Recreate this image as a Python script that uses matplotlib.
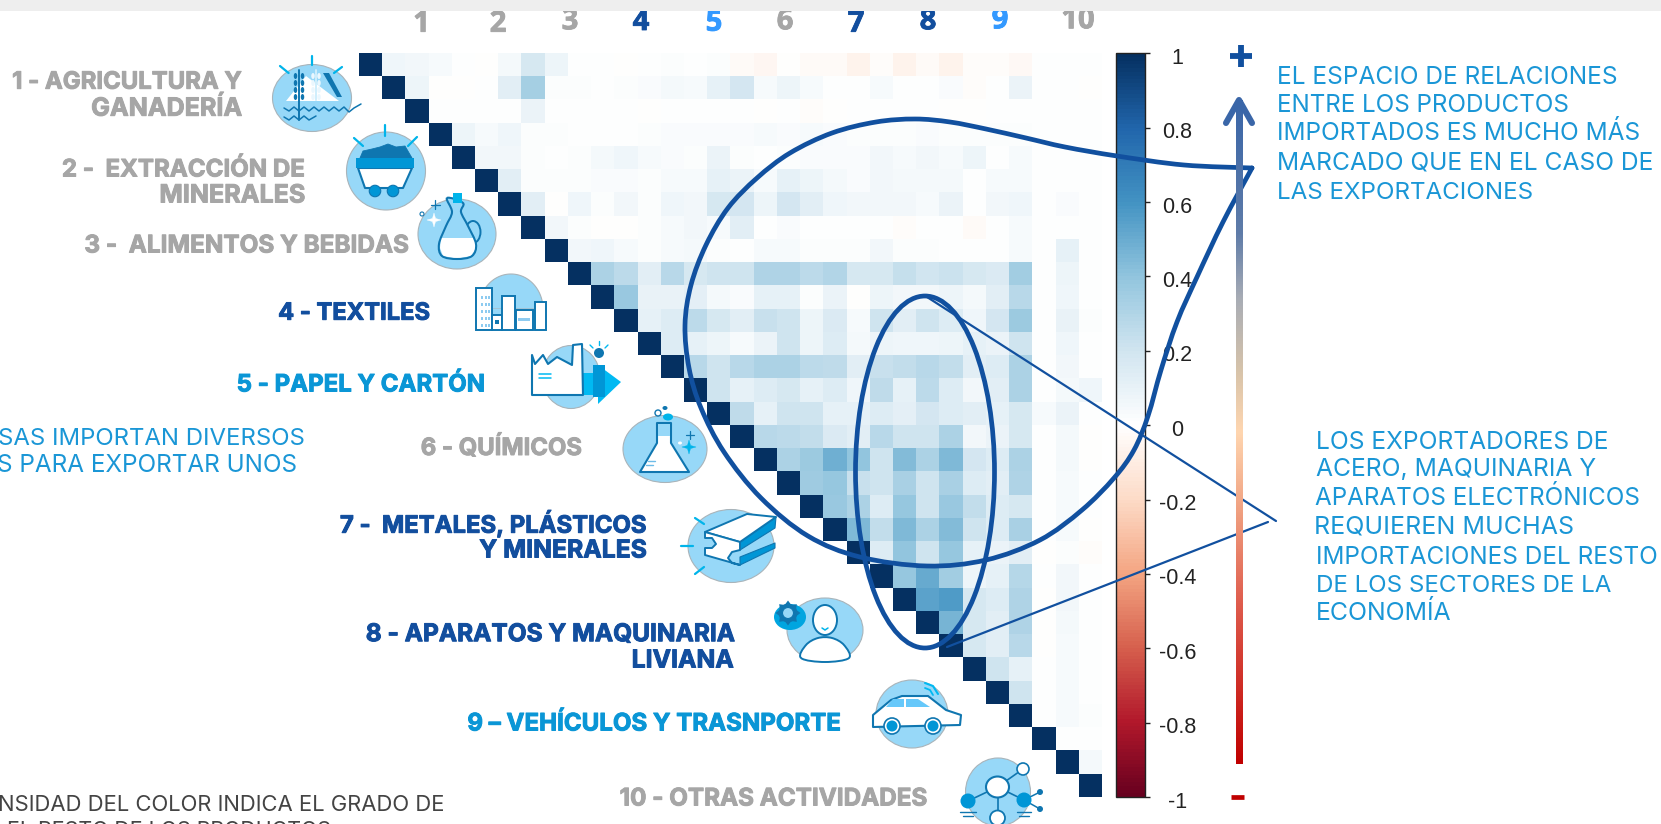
import numpy as np
import matplotlib
matplotlib.use("Agg")
import matplotlib.pyplot as plt
import matplotlib.patheffects as pe
from matplotlib.colors import LinearSegmentedColormap, Normalize
from matplotlib.cm import ScalarMappable
from matplotlib.patches import Ellipse, Polygon, Circle, Rectangle, PathPatch
from matplotlib.path import Path
from matplotlib.transforms import ScaledTranslation

W, H = 1661, 824

# ------------------------------------------------------------ data
row_00 = [.06,.05,.03,0,-.005,.04,.17,.07,0,0,-.005,0,.01,0,.01,-.03,-.05,-.01,-.03,-.03,-.07,-.015,-.07,-.03,-.07,-.02,-.015,-.035,0,.005,0]
row_01 = [.07,-.005,-.005,0,.13,.33,.01,.01,0,.01,.02,.04,.03,.1,.18,.03,.07,.03,0,0,.03,0,0,.02,-.02,0,.08,0,0,-.01]
row_02 = [0,0,0,0,.08,0,0,0,0,-.003,0,0,0,0,-.008,0,-.012,-.008,0,0,0,0,-.005,-.005,0,0,0,0,0]
row_03 = [.07,.03,.06,.01,.01,0,0,.005,.01,.02,.02,.02,.02,.03,.02,.03,.02,.01,.01,.015,.02,.01,.01,.01,.01,0,0,0]
row_04 = [.05,.05,.01,0,.01,.04,.06,.03,.02,.01,.08,.01,0,.01,.02,.02,.02,.05,.03,.05,.03,.07,0,.03,0,0,0]
row_05 = [.13,.01,.01,.01,.02,.02,.01,.03,.03,.1,.08,.03,.1,.07,.04,.02,.05,.04,.04,.04,0,.03,.03,0,0,0]
row_06 = [.12,-.005,.06,.01,.05,.01,.06,.05,.17,.18,.07,.18,.12,.06,.05,.05,.05,.03,.08,0,.05,.06,0,.02,0]
row_07 = [.05,.01,-.005,-.005,.01,.03,.05,.03,.12,0,.02,0,0,0,.005,-.02,0,.005,-.03,0,.03,0,0,0]
row_08 = [.05,.06,.03,.01,.03,.04,.01,0,.03,.03,.01,.01,.01,.05,.01,.01,0,0,.005,.03,0,.1,0]
row_09 = [.31,.26,.13,.27,.17,.2,.2,.3,.3,.26,.29,.17,.17,.23,.19,.21,.17,.16,.34,0,.07,0]
row_10 = [.37,.09,.09,.11,.04,.02,.1,.1,.01,.08,-.005,.07,.05,.05,.07,.04,.12,.27,0,.06,0]
row_11 = [.1,.15,.26,.17,.12,.22,.2,.07,.16,.03,.2,.13,.2,.14,.06,.18,.36,0,.09,.01]
row_12 = [.15,.1,.07,.03,.08,.2,.07,.15,.04,.07,.06,.06,.07,.1,.08,.2,0,.06,0]
row_13 = [.27,.2,.27,.31,.31,.26,.25,.12,.22,.24,.27,.24,.12,.14,.31,0,.05,0]
row_14 = [.2,.1,.15,.17,.1,.15,.06,.25,.1,.26,.14,.05,.13,.31,0,.04,.06]
row_15 = [.25,.1,.2,.2,.1,.1,.14,.11,.18,.14,.13,.1,.17,.03,.08,0]
row_16 = [.27,.26,.24,.16,.12,.27,.2,.2,.31,.05,.08,.17,0,.04,-.005]
row_17 = [.31,.36,.48,.39,.2,.43,.31,.44,.18,.15,.31,0,.04,-.01]
row_18 = [.35,.38,.22,.2,.32,.2,.32,.15,.13,.3,0,.03,0]
row_19 = [.37,.31,.14,.38,.2,.37,.24,.15,.17,0,.03,0]
row_20 = [.44,.24,.44,.31,.43,.2,.15,.32,0,.03,-.01]
row_21 = [.14,.39,.2,.38,.1,.08,.12,-.01,.01,-.015]
row_22 = [.38,.5,.34,.07,.1,.28,0,.05,0]
row_23 = [.53,.57,.17,.15,.3,-.005,.05,0]
row_24 = [.46,.17,.12,.3,-.005,.04,0]
row_25 = [.17,.13,.27,-.01,.03,0]
row_26 = [.2,.1,0,.03,0]
row_27 = [.2,0,.03,0]
row_28 = [0,.03,.01]
row_29 = [0,0]
row_30 = [.04]
upper_rows = [row_00,row_01,row_02,row_03,row_04,row_05,row_06,row_07,row_08,row_09,row_10,
              row_11,row_12,row_13,row_14,row_15,row_16,row_17,row_18,row_19,row_20,row_21,
              row_22,row_23,row_24,row_25,row_26,row_27,row_28,row_29,row_30,[]]

column_numbers = ["1","2","3","4","5","6","7","8","9","10"]
cbar_ticks = [1,0.8,0.6,0.4,0.2,0,-0.2,-0.4,-0.6,-0.8,-1]
cbar_labels = ["1","0.8","0.6","0.4","0.2","0","-0.2","-0.4","-0.6","-0.8","-1"]

GREY="#a6a6a6"; NAVY="#124e9e"; SKY="#0a96d6"; TXT="#1a96d6"; BRIGHT="#3399ff"
LINE="#11509f"; LIGHT="#97d8f8"; EDGE="#0f76b0"; MID="#0096d6"; CYAN="#00b9f2"

# ------------------------------------------------------------ figure
plt.rcParams['font.family'] = ['Inter','DejaVu Sans']
fig = plt.figure(figsize=(W/100, H/100), dpi=100, facecolor="white")

def px_axes(x0, y0, x1, y1, **kw):
    return fig.add_axes([x0/W, 1-y1/H, (x1-x0)/W, (y1-y0)/H], **kw)

corr_cmap = LinearSegmentedColormap.from_list("corr", ["#67001F","#B2182B","#D6604D","#F4A582","#FDDBC7",
    "#FFFFFF","#D1E5F0","#92C5DE","#4393C3","#2166AC","#053061"], N=200)
norm = Normalize(-1, 1)

n = len(upper_rows)
M = np.full((n, n), np.nan)
for r, vals in enumerate(upper_rows):
    M[r, r] = 1
    M[r, r+1:r+1+len(vals)] = vals

ax = px_axes(359.3, 53.3, 1101.7, 797)
ax.imshow(M, cmap=corr_cmap, norm=norm, aspect='auto', interpolation='nearest')
ax.axis('off')

cax = px_axes(1116, 53.3, 1144.5, 797)
cb = fig.colorbar(ScalarMappable(norm=norm, cmap=corr_cmap), cax=cax)
cb.set_ticks(cbar_ticks)
cb.set_ticklabels(cbar_labels)
cb.outline.set_linewidth(1.0); cb.outline.set_edgecolor("#222222")
cax.tick_params(axis='y', length=3.8, width=1, pad=20, labelsize=15.5, labelcolor="#222222", color="#222222")
off = ScaledTranslation(0, -2.5/100, fig.dpi_scale_trans)
for lab in cax.get_yticklabels():
    lab.set_ha('center'); lab.set_family('Liberation Sans')
    lab.set_transform(lab.get_transform() + off)

# overlay in image pixels
ov = fig.add_axes([0,0,1,1], zorder=5)
ov.set_xlim(0, W); ov.set_ylim(H, 0); ov.axis('off'); ov.patch.set_alpha(0)
rend = fig.canvas.get_renderer()

def fit(s, x0, x1, y, color, weight='bold', base=15):
    t = ov.text(x1, y+2, s, ha='right', va='center', color=color, fontweight=weight, fontsize=base, zorder=6)
    w = t.get_window_extent(rend).width
    t.set_fontsize(base*(x1-x0)/w)
    if weight == 'bold':
        t.set_path_effects([pe.withStroke(linewidth=0.7, foreground=color)])
    return t

def ell(cx, cy, w, h, fc=LIGHT, ec="#a9b4ba", lw=0.8, z=3):
    ov.add_patch(Ellipse((cx,cy), w, h, fc=fc, ec=ec, lw=lw, zorder=z))

def poly(pts, fc="white", ec=EDGE, lw=1.4, z=4, smooth=False):
    if smooth:
        ov.add_patch(PathPatch(smooth_path(pts, True), fc=fc, ec=ec, lw=lw, zorder=z))
    else:
        ov.add_patch(Polygon(pts, closed=True, fc=fc, ec=ec, lw=lw, zorder=z, joinstyle='round'))

def line(pts, color=EDGE, lw=1.4, z=4):
    a = np.array(pts, float)
    ov.plot(a[:,0], a[:,1], color=color, lw=lw, zorder=z, solid_capstyle='round', solid_joinstyle='round')

def smooth_path(pts, closed=False):
    p = np.array(pts, float)
    if closed:
        q = np.vstack([p[-1], p, p[0], p[1]])
    else:
        q = np.vstack([p[0], p, p[-1]])
    v = [q[1]]; c = [Path.MOVETO]
    for i in range(1, len(q)-2):
        b1 = q[i] + (q[i+1]-q[i-1])/6
        b2 = q[i+1] - (q[i+2]-q[i])/6
        v += [b1, b2, q[i+1]]; c += [Path.CURVE4]*3
    return Path(v, c)

def star(cx, cy, r, color):
    a = 0.22*r
    poly([(cx,cy-r),(cx+a,cy-a),(cx+r,cy),(cx+a,cy+a),(cx,cy+r),(cx-a,cy+a),(cx-r,cy),(cx-a,cy-a)], fc=color, ec=color, lw=0.3, z=5)

# ------------------------------------------------------------ header
ov.add_patch(Rectangle((0,0), W, 11, fc="#eeeeee", ec="none", zorder=8))
num_x = [421.6,498,570,641,714,785,856,928,1000,1078]
num_y = [31.7,31.7,29.3,30,30.7,29.3,31.7,29.3,28.3,28.3]
num_c = [GREY,GREY,GREY,NAVY,BRIGHT,GREY,NAVY,NAVY,BRIGHT,GREY]
for s,x,y,c in zip(column_numbers,num_x,num_y,num_c):
    ov.text(x, y, s, ha='center', va='baseline', fontsize=21, color=c, fontweight='bold', family='Open Sans', zorder=7,
            path_effects=[pe.withStroke(linewidth=0.6, foreground=c)])

# ------------------------------------------------------------ sector labels
fit("1 - AGRICULTURA Y", 12.5, 242, 80.7, GREY)
fit("GANADERÍA", 91, 242, 106.7, GREY)
fit("2 -  EXTRACCIÓN DE", 62.5, 305, 168, GREY)
fit("MINERALES", 159, 305, 194, GREY)
fit("3 -  ALIMENTOS Y BEBIDAS", 85, 409, 244, GREY)
fit("4 - TEXTILES", 278.6, 430, 311.7, NAVY)
fit("5 - PAPEL Y CARTÓN", 237, 485, 383, SKY)
fit("6 - QUÍMICOS", 420.7, 582, 446, GREY)
fit("7 -  METALES, PLÁSTICOS", 340.7, 646.7, 521.7, NAVY)
fit("Y MINERALES", 479, 646.7, 549, NAVY)
fit("8 - APARATOS Y MAQUINARIA", 365, 734, 632.7, NAVY)
fit("LIVIANA", 632, 734, 659, NAVY)
fit("9 – VEHÍCULOS Y TRASNPORTE", 467.6, 841, 722, SKY)
fit("10 - OTRAS ACTIVIDADES", 620, 927, 797, GREY)

# ------------------------------------------------------------ commentary
right1 = [("EL ESPACIO DE RELACIONES",1276,1618,75),("ENTRE LOS PRODUCTOS",1276,1569,103),
          ("IMPORTADOS ES MUCHO MÁS",1276,1640,131),("MARCADO QUE EN EL CASO DE",1276,1653.5,161),
          ("LAS EXPORTACIONES",1276,1533,191)]
right2 = [("LOS EXPORTADORES DE",1314.7,1608,440),("ACERO, MAQUINARIA Y",1314.7,1596,467),
          ("APARATOS ELECTRÓNICOS",1314.7,1640,496),("REQUIEREN MUCHAS",1314.7,1574,525),
          ("IMPORTACIONES DEL RESTO",1314.7,1658,555),("DE LOS SECTORES DE LA",1314.7,1611,584.5),
          ("ECONOMÍA",1314.7,1451,611)]
for s,a,b,y in right1+right2:
    fit(s, a, b, y, TXT, weight='normal')
fit("SAS IMPORTAN DIVERSOS", -3, 305, 436.7, TXT, weight='normal')
fit("S PARA EXPORTAR UNOS", -4, 297, 463, TXT, weight='normal')
fit("NSIDAD DEL COLOR INDICA EL GRADO DE", -4, 445, 803, "#444444", weight='normal')
fit("EL RESTO DE LOS PRODUCTOS", 5, 331, 829, "#444444", weight='normal')

# ------------------------------------------------------------ callout outlines
outline = [(1252,168),(1184,165),(1117,156),(1065,147),(1026,138),(986,129),(950,122),(915,119),(876,122),
           (832,133),(790,153),(757,178),(728,208),(706,245),(691,285),(685,325),(689,368),(701,408),(724,452),(761,498),
           (808,536),(860,557),(927,566),(986,560),(1040,540),(1082,510),(1114,478),(1134,450),(1148,416),
           (1161,370),(1177,322),(1197,277),(1223,222),(1252,168)]
ov.add_patch(PathPatch(smooth_path(outline), fc='none', ec=LINE, lw=3.4, zorder=5, capstyle='round', joinstyle='miter'))
ov.add_patch(Ellipse((925,472), 139, 352, fc='none', ec=LINE, lw=3.4, zorder=5))
line([(927,297),(1276,521)], LINE, 1.6, 5)
line([(1268,522),(947,647)], LINE, 1.6, 5)

# gradient arrow
grad = LinearSegmentedColormap.from_list("g", [(0,"#3a66a8"),(0.2,"#5f7ca8"),(0.3,"#a9adb5"),(0.41,"#d8c4aa"),
    (0.5,"#ffd6b0"),(0.62,"#f0a080"),(0.75,"#e06050"),(1,"#c00000")])
ov.imshow(np.linspace(0,1,256)[:,None], extent=(1235.6,1242,764,100), cmap=grad, aspect='auto', zorder=6, vmin=0, vmax=1)
ov.set_xlim(0, W); ov.set_ylim(H, 0)
line([(1226,123),(1239,100),(1252,123)], "#3a66a8", 4.4, 6)
ov.plot([1240.6,1240.6],[45,67], color=LINE, lw=4.2, zorder=6, solid_capstyle='butt')
ov.plot([1229.6,1251.6],[56,56], color=LINE, lw=4.2, zorder=6, solid_capstyle='butt')
ov.plot([1231,1244],[797,797], color="#c00000", lw=3.4, zorder=6, solid_capstyle='butt')

# ------------------------------------------------------------ icons
# 1 agriculture
ell(312,98,79,67)
for a,b in [((280,66),(288.6,73)),((312,56),(312,65)),((342,67),(334,73))]:
    line([a,b], "#00b4ea", 1.6)
poly([(286,101),(306,76),(339,101)], fc="white", ec="none", lw=0)
poly([(323,73),(329,73),(342,97),(337,97)], fc=EDGE, ec="none", lw=0)
line([(299,70),(299,120)], EDGE, 1.4)
line([(316,70),(316,100)], "#cfeefc", 1.4)
for y in (76,83,90,97):
    ell(295.5,y,3.5,6,fc=EDGE,ec="none",z=4); ell(302.5,y,3.5,6,fc=EDGE,ec="none",z=4)
    ell(313,y,3.5,6,fc="#eaf7fe",ec="none",z=4); ell(319,y,3.5,6,fc="#eaf7fe",ec="none",z=4)
line([(284,108),(289,111),(294,107),(299,111),(304,107),(309,111),(314,107),(319,111),(324,107),(329,111),(334,107),(339,111),(344,107),(349,112),(354,108),(361,104)], EDGE, 1.1)
line([(284,117),(289,120),(294,116),(299,120),(304,116),(309,120),(316,116)], EDGE, 1.1)
# 2 mining
ell(386,171,79,78)
for a,b in [((354,138),(363,146)),((385,125),(385,136)),((417,137),(408,146))]:
    line([a,b], "#00b4ea", 1.6)
poly([(360,158),(363,151),(372,149),(380,147),(388,144),(396,147),(405,146),(412,158)], fc=EDGE, ec=EDGE, lw=0.6)
poly([(358,168),(365,188),(403,188),(412,168)], fc="white", ec=EDGE, lw=1.5)
ov.add_patch(Rectangle((356,158),58,10, fc=MID, ec="none", zorder=5))
for x in (375,393):
    ell(x,191,11.5,11.5,fc=MID,ec=EDGE,lw=0.8,z=5)
# 3 jug
ell(457,234,78,70)
ov.add_patch(Ellipse((473,232),15,22, fc='none', ec=EDGE, lw=1.4, zorder=3.5))
jug = [(447,198),(452,212),(446,226),(439,244),(442,256),(457,259),(472,256),(476,244),(468,226),(461,212),(463,203)]
ov.add_patch(PathPatch(smooth_path(jug, True), fc=LIGHT, ec="none", zorder=4))
poly([(441,238),(475,238),(476,248),(471,256),(457,258.5),(443,256),(440,248)], fc="white", ec="none", lw=0, z=4.2)
ov.add_patch(PathPatch(smooth_path(jug, True), fc='none', ec=EDGE, lw=1.5, zorder=5))
ov.add_patch(Rectangle((453,193),9,10, fc="#00b4ea", ec="none", zorder=5))
star(434,220,7,"white")
line([(435,200),(435,209)], EDGE, 0.9); line([(431,205),(440,205)], EDGE, 0.9)
ell(422,214,4,4,fc="white",ec=EDGE,lw=0.8,z=5)
# 4 buildings
th = np.linspace(np.pi, 2*np.pi, 60)
poly(np.c_[511+32*np.cos(th), 309+35*np.sin(th)], fc=LIGHT, ec="#a9b4ba", lw=0.8, z=3)
ov.add_patch(Rectangle((480,309),62,21, fc=LIGHT, ec="none", zorder=3))
for (a,b,c,d) in [(476,288,492,330),(492,315,502,330),(502,296,515,330),(516,310,533,330),(535,302,546,330)]:
    ov.add_patch(Rectangle((a,b),c-a,d-b, fc="white", ec=EDGE, lw=1.4, zorder=4))
for x in (481,485,488):
    for y in (296,303,310,317,324):
        ov.add_patch(Rectangle((x,y),2,3, fc="#8ecbf0", ec="none", zorder=5))
ov.add_patch(Rectangle((518,318),12,3, fc="#8ecbf0", ec="none", zorder=5))
ov.add_patch(Rectangle((495,320),4,4, fc=EDGE, ec="none", zorder=5))
# 5 factory
ell(571,377,58,63)
poly([(598,365),(621,382),(598,404)], fc=CYAN, ec="none", lw=0)
ov.add_patch(Rectangle((583,373),15,22, fc=CYAN, ec="none", zorder=4))
poly([(532,355),(532,395),(583,395),(582,344),(573,345),(572,365),(557,357),(548,364),(543,355),(535,364)], fc="white", ec=EDGE, lw=1.5, z=5)
line([(539,374),(551,374)], CYAN, 1.1, 6); line([(539,378),(551,378)], CYAN, 1.1, 6)
ov.add_patch(Rectangle((593,365),12,32, fc=MID, ec="none", zorder=5))
ell(599,353,10,10,fc=EDGE,ec="none",z=5)
line([(590,345),(593,348)], CYAN, 1); line([(599,341),(599,345)], CYAN, 1); line([(608,345),(605,348)], CYAN, 1)
# 6 flask
ell(665,449,84,67)
poly([(657,423),(671,423),(671,443),(689,472),(640,472),(657,443)], fc="white", ec=EDGE, lw=1.5)
ov.add_patch(Rectangle((658,424),12,12, fc=LIGHT, ec="none", zorder=5))
line([(648,461),(655,461)], "#6dbce8", 1); line([(646,465),(653,465)], "#6dbce8", 1)
ell(658,413,6,6,fc="white",ec=EDGE,lw=1,z=5); ell(668,417,10,7,fc="#00b4ea",ec="none",z=5); ell(665,408,5,4,fc=EDGE,ec="none",z=5)
star(689,447,7,"#00b4ea")
line([(690,431),(690,439)], EDGE, 0.9); line([(686,435),(694,435)], EDGE, 0.9)
ell(680,443,4,3,fc="white",ec="none",z=5)
# 7 beam
ell(731,546,86,73)
for a,b in [((695,518),(704,524)),((681,546),(693,546)),((695,574),(704,567))]:
    line([a,b], "#00b4ea", 1.6)
poly([(740,542),(776,517),(775,528),(740,550)], fc=MID, ec=EDGE, lw=0.8)
poly([(740,557),(775,543),(775,548),(740,565)], fc=MID, ec=EDGE, lw=0.8)
poly([(705,532),(747,514),(776,517),(740,542)], fc="white", ec=EDGE, lw=1.4, z=5)
poly([(705,532),(740,542),(740,550),(732,552),(728,558),(732,563),(740,565),(705,555),(705,548),(712,548),(716,544),(712,538),(705,538)], fc="white", ec=EDGE, lw=1.4, z=5)
# 8 person
ell(825,630,76,64)
poly([(801,658),(806,645),(818,638),(832,638),(844,645),(849,658),(825,662)], fc="white", ec=EDGE, lw=1.4, smooth=True)
ell(825,620,24,30,fc="white",ec=EDGE,lw=1.4,z=5)
line([(822,628),(825,630),(828,628)], "#00b4ea", 1.1, 6)
ell(790,617,32,26,fc="#00a5e0",ec="none",z=4)
ang = np.linspace(0, 2*np.pi, 24, endpoint=False)
rad = np.where(np.arange(24) % 3 == 0, 12.5, 9.5)
poly(np.c_[788+rad*np.cos(ang), 613+rad*np.sin(ang)], fc=EDGE, ec="none", lw=0, z=5)
ell(788,613,11,11,fc=LIGHT,ec=EDGE,lw=0.8,z=6)
# 9 car
ell(912,714,72,68)
poly([(873,725),(873,715),(891,700),(902,696),(928,696),(946,710),(961,715),(960,725),(873,727)], fc="white", ec=EDGE, lw=1.5)
poly([(886,707),(893,699),(904,699),(904,707)], fc="#66c8fa", ec="none", lw=0, z=5)
poly([(906,699),(918,699),(930,707),(906,707)], fc="#66c8fa", ec="none", lw=0, z=5)
for x in (892,933):
    ell(x,726,16,16,fc="white",ec=EDGE,lw=1.2,z=5); ell(x,726,11,11,fc=MID,ec="none",z=6)
line([(925,683),(933,686),(938,694)], CYAN, 1.5); line([(925,688),(930,690),(933,695)], CYAN, 1.3)
# 10 network
ell(998,792,65,68)
for a in [(1023,769),(968,801),(1024,800),(997.5,818)]:
    line([(997.5,787),a], EDGE, 1.2)
line([(1024,800),(1040,792)], EDGE, 1.1); line([(1024,800),(1040,809)], EDGE, 1.1)
ell(997.5,787,23,21,fc="white",ec=EDGE,lw=1.5,z=5)
ell(1023,769,12,12,fc="white",ec=EDGE,lw=1.2,z=5)
ell(968,801,15,15,fc=MID,ec="none",z=5); ell(1024,800,15,15,fc=MID,ec="none",z=5)
ell(997.5,818,15,15,fc="white",ec=EDGE,lw=1.3,z=5)
ell(1040,792,6,6,fc=EDGE,ec="none",z=5); ell(1040,809,6,6,fc=EDGE,ec="none",z=5)
for a,b,y in [(960,976,812),(963,973,816),(1017,1031,812),(1019,1029,816)]:
    line([(a,y),(b,y)], EDGE, 1)

fig.savefig("out.png", dpi=100, facecolor="white")
